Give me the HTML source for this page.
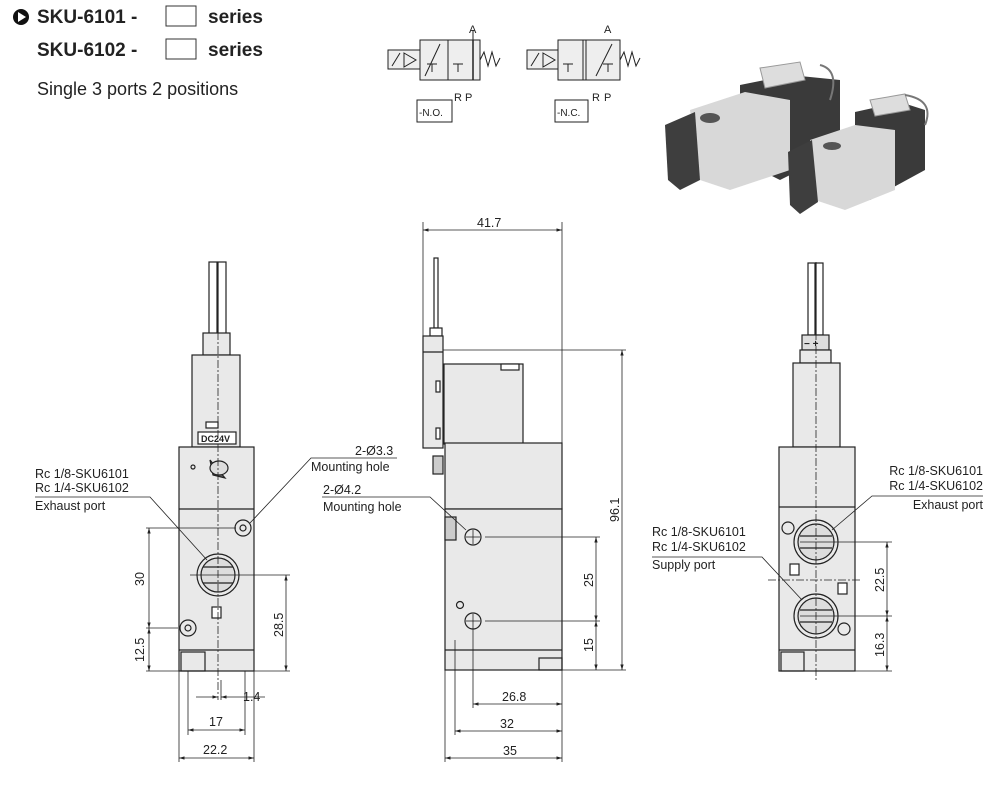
<!DOCTYPE html>
<html><head><meta charset="utf-8"><style>
html,body{margin:0;padding:0;background:#fff}
svg{display:block}
text{font-family:"Liberation Sans",sans-serif;fill:#222}
</style></head><body>
<svg width="1000" height="798" viewBox="0 0 1000 798" xmlns="http://www.w3.org/2000/svg">
<defs>
<marker id="ar" viewBox="0 0 10 10" refX="10" refY="5" markerWidth="7" markerHeight="7" orient="auto-start-reverse"><path d="M0,2 L10,5 L0,8z" fill="#222"/></marker>
</defs>
<!-- Header -->
<circle cx="21" cy="17" r="8" fill="#111"/><path d="M18,12 L26,17 L18,22z" fill="#fff"/>
<text x="37" y="23" font-size="19" font-weight="bold">SKU-6101 -</text>
<rect x="166" y="6" width="30" height="20" fill="none" stroke="#333"/>
<text x="208" y="23" font-size="19" font-weight="bold">series</text>
<text x="37" y="56" font-size="19" font-weight="bold">SKU-6102 -</text>
<rect x="166" y="39" width="30" height="20" fill="none" stroke="#333"/>
<text x="208" y="56" font-size="19" font-weight="bold">series</text>
<text x="37" y="95" font-size="18">Single 3 ports 2 positions</text>

<!-- NO symbol -->
<g stroke="#222" stroke-width="1" fill="#eee">
<rect x="388" y="50" width="32" height="19"/>
<rect x="420" y="40" width="60" height="40"/>
<line x1="448" y1="40" x2="448" y2="80"/>
<path d="M392,66 L400,53 M404,53 L416,60 L404,67z" fill="none"/>
<path d="M425,76 L440,44 M432,72 V64 M427,64 H437 M458,72 V64 M453,64 H463 M473,40 V30" fill="none"/>
<path d="M473,40 V80" fill="none" stroke-width="1.5"/>
<path d="M480,60 L484,52 L488,66 L492,52 L496,66 L500,58" fill="none"/>
<rect x="417" y="100" width="35" height="22" fill="#fff"/>
<rect x="527" y="50" width="31" height="19"/>
<rect x="558" y="40" width="62" height="40"/>
<line x1="583" y1="40" x2="583" y2="80"/><line x1="586" y1="40" x2="586" y2="80"/>
<path d="M531,66 L539,53 M543,53 L555,60 L543,67z" fill="none"/>
<path d="M596,76 L612,44 M568,72 V64 M563,64 H573 M608,72 V64 M603,64 H613" fill="none"/>
<path d="M620,60 L624,52 L628,66 L632,52 L636,66 L640,58" fill="none"/>
<rect x="555" y="100" width="33" height="22" fill="#fff"/>
</g>
<g font-size="11">
<text x="469" y="33">A</text><text x="454" y="101">R</text><text x="465" y="101">P</text>
<text x="604" y="33">A</text><text x="592" y="101">R</text><text x="604" y="101">P</text>
<text x="419" y="116" font-size="10">-N.O.</text><text x="557" y="116" font-size="10">-N.C.</text>
</g>

<!-- Photo approximation -->
<g>
<path d="M740,85 L790,75 L840,80 L840,150 L780,180 L740,160z" fill="#3a3a3a"/>
<path d="M690,110 L745,92 L790,100 L790,170 L730,190 L700,180z" fill="#d8d8d8"/>
<path d="M665,125 L695,112 L700,180 L680,190 L668,180z" fill="#3e3e3e"/>
<path d="M760,68 L800,62 L805,80 L765,88z" fill="#ddd" stroke="#999"/>
<path d="M820,65 Q840,70 830,100" fill="none" stroke="#777" stroke-width="2"/>
<ellipse cx="710" cy="118" rx="10" ry="5" fill="#555"/>
<path d="M855,112 L900,102 L925,110 L925,170 L870,200 L855,190z" fill="#3a3a3a"/>
<path d="M810,140 L855,125 L895,130 L895,190 L845,210 L815,200z" fill="#d8d8d8"/>
<path d="M788,152 L812,140 L818,202 L800,214 L790,205z" fill="#3e3e3e"/>
<path d="M870,100 L905,94 L910,110 L875,116z" fill="#ddd" stroke="#999"/>
<path d="M905,95 Q935,100 925,125" fill="none" stroke="#777" stroke-width="2"/>
<ellipse cx="832" cy="146" rx="9" ry="4" fill="#555"/>
</g>

<!-- ===== LEFT VIEW ===== -->
<g stroke="#222" stroke-width="1.2" fill="#e9e9e9">
<rect x="209" y="262" width="8" height="72" fill="#fff"/><rect x="218" y="262" width="8" height="72" fill="#fff"/>
<rect x="203" y="333" width="27" height="22"/>
<rect x="192" y="355" width="48" height="92"/>
<rect x="179" y="447" width="75" height="224"/>
<line x1="179" y1="509" x2="254" y2="509"/>
<line x1="179" y1="650" x2="254" y2="650"/>
<rect x="181" y="652" width="24" height="19" fill="none"/>
<rect x="206" y="422" width="12" height="6" fill="#fff"/>
<rect x="198" y="432" width="38" height="12" fill="#fff"/>
<circle cx="218" cy="575" r="21"/><circle cx="218" cy="575" r="17" fill="#ddd"/>
<line x1="203" y1="567" x2="233" y2="567"/><line x1="203" y1="583" x2="233" y2="583"/>
<circle cx="243" cy="528" r="8"/><circle cx="243" cy="528" r="3"/>
<circle cx="188" cy="628" r="8"/><circle cx="188" cy="628" r="3"/>
<rect x="212" y="607" width="9" height="11" fill="#fff"/>
<path d="M210,460 L225,478 L213,475z" fill="#666"/>
<ellipse cx="219" cy="468" rx="9" ry="7" fill="#ddd"/>
<circle cx="193" cy="467" r="2" fill="none"/>
</g>
<text x="201" y="442" font-size="9" font-weight="bold">DC24V</text>
<g stroke="#222" stroke-width="0.8" fill="none">
<line x1="218" y1="262" x2="218" y2="700" stroke-dasharray="8,2,2,2"/>
<line x1="146" y1="528" x2="236" y2="528"/>
<line x1="190" y1="575" x2="290" y2="575"/>
<line x1="146" y1="628" x2="178" y2="628"/>
<line x1="146" y1="671" x2="290" y2="671"/>
<line x1="149" y1="528" x2="149" y2="628" marker-start="url(#ar)" marker-end="url(#ar)"/>
<line x1="149" y1="628" x2="149" y2="671" marker-start="url(#ar)" marker-end="url(#ar)"/>
<line x1="286" y1="575" x2="286" y2="671" marker-start="url(#ar)" marker-end="url(#ar)"/>
<line x1="188" y1="671" x2="188" y2="735"/>
<line x1="245" y1="671" x2="245" y2="735"/>
<line x1="179" y1="671" x2="179" y2="762"/>
<line x1="254" y1="671" x2="254" y2="762"/>
<line x1="221" y1="680" x2="221" y2="700"/>
<line x1="196" y1="697" x2="218" y2="697" marker-end="url(#ar)"/>
<line x1="265" y1="697" x2="221" y2="697" marker-end="url(#ar)"/>
<line x1="188" y1="730" x2="245" y2="730" marker-start="url(#ar)" marker-end="url(#ar)"/>
<line x1="179" y1="758" x2="254" y2="758" marker-start="url(#ar)" marker-end="url(#ar)"/>
<polyline points="35,497 150,497 207,560"/>
<polyline points="397,458 311,458 250,523"/>
</g>
<g font-size="12.5">
<text x="35" y="478">Rc 1/8-SKU6101</text>
<text x="35" y="492">Rc 1/4-SKU6102</text>
<text x="35" y="510">Exhaust port</text>
<text x="355" y="455">2-Ø3.3</text>
<text x="311" y="471">Mounting hole</text>
<text x="323" y="494">2-Ø4.2</text>
<text x="323" y="511">Mounting hole</text>
<text x="243" y="701">1.4</text>
<text x="209" y="726">17</text>
<text x="203" y="754">22.2</text>
<text transform="translate(144,586) rotate(-90)">30</text>
<text transform="translate(144,662) rotate(-90)">12.5</text>
<text transform="translate(283,637) rotate(-90)">28.5</text>
</g>

<!-- ===== MIDDLE VIEW ===== -->
<g stroke="#222" stroke-width="1.2" fill="#e9e9e9">
<rect x="434" y="258" width="4" height="70" fill="#fff"/>
<rect x="430" y="328" width="12" height="8" fill="#fff"/>
<rect x="423" y="336" width="20" height="112"/>
<line x1="423" y1="352" x2="443" y2="352"/>
<rect x="436" y="381" width="4" height="11" fill="#fff"/><rect x="436" y="428" width="4" height="11" fill="#fff"/>
<rect x="444" y="364" width="79" height="80"/>
<rect x="501" y="364" width="18" height="6" fill="#fff"/>
<rect x="445" y="443" width="117" height="66"/>
<rect x="445" y="509" width="117" height="161"/>
<line x1="445" y1="650" x2="562" y2="650"/>
<rect x="539" y="658" width="23" height="12" fill="none"/>
<rect x="445" y="517" width="11" height="23" fill="#ccc"/>
<rect x="433" y="456" width="10" height="18" fill="#ccc"/>
<circle cx="473" cy="537" r="8" fill="none"/><circle cx="473" cy="621" r="8" fill="none"/>
<circle cx="460" cy="605" r="3.5" fill="none"/>
</g>
<g stroke="#222" stroke-width="0.8" fill="none">
<line x1="423" y1="222" x2="423" y2="336"/>
<line x1="562" y1="222" x2="562" y2="762"/>
<line x1="423" y1="230" x2="562" y2="230" marker-start="url(#ar)" marker-end="url(#ar)"/>
<line x1="443" y1="350" x2="626" y2="350"/>
<line x1="622" y1="350" x2="622" y2="670" marker-start="url(#ar)" marker-end="url(#ar)"/>
<line x1="562" y1="670" x2="626" y2="670"/>
<line x1="485" y1="537" x2="600" y2="537"/><line x1="485" y1="621" x2="600" y2="621"/>
<line x1="596" y1="537" x2="596" y2="621" marker-start="url(#ar)" marker-end="url(#ar)"/>
<line x1="596" y1="621" x2="596" y2="670" marker-start="url(#ar)" marker-end="url(#ar)"/>
<line x1="473" y1="530" x2="473" y2="544"/><line x1="466" y1="537" x2="480" y2="537"/>
<line x1="473" y1="614" x2="473" y2="708"/><line x1="466" y1="621" x2="480" y2="621"/>
<line x1="455" y1="640" x2="455" y2="735"/>
<line x1="445" y1="670" x2="445" y2="762"/>
<line x1="473" y1="704" x2="562" y2="704" marker-start="url(#ar)" marker-end="url(#ar)"/>
<line x1="455" y1="731" x2="562" y2="731" marker-start="url(#ar)" marker-end="url(#ar)"/>
<line x1="445" y1="758" x2="562" y2="758" marker-start="url(#ar)" marker-end="url(#ar)"/>
<polyline points="322,497 430,497 466,530"/>
</g>
<g font-size="12.5">
<text x="477" y="227">41.7</text>
<text x="502" y="701">26.8</text>
<text x="500" y="728">32</text>
<text x="503" y="755">35</text>
<text transform="translate(593,587) rotate(-90)">25</text>
<text transform="translate(593,652) rotate(-90)">15</text>
<text transform="translate(619,522) rotate(-90)">96.1</text>
</g>

<!-- ===== RIGHT VIEW ===== -->
<g stroke="#222" stroke-width="1.2" fill="#e9e9e9">
<rect x="808" y="263" width="7" height="72" fill="#fff"/><rect x="816" y="263" width="7" height="72" fill="#fff"/>
<rect x="802" y="335" width="27" height="15" fill="#ddd"/>
<rect x="800" y="350" width="31" height="13"/>
<rect x="793" y="363" width="47" height="84"/>
<rect x="779" y="447" width="76" height="224"/>
<line x1="779" y1="507" x2="855" y2="507"/>
<line x1="779" y1="650" x2="855" y2="650"/>
<rect x="781" y="652" width="23" height="19" fill="none"/>
<circle cx="816" cy="542" r="22"/><circle cx="816" cy="542" r="18" fill="#ddd"/>
<line x1="800" y1="536" x2="832" y2="536"/><line x1="800" y1="548" x2="832" y2="548"/>
<circle cx="816" cy="616" r="22"/><circle cx="816" cy="616" r="18" fill="#ddd"/>
<line x1="800" y1="610" x2="832" y2="610"/><line x1="800" y1="622" x2="832" y2="622"/>
<circle cx="788" cy="528" r="6"/><circle cx="844" cy="629" r="6"/>
<rect x="790" y="564" width="9" height="11" fill="#fff"/><rect x="838" y="583" width="9" height="11" fill="#fff"/>
</g>
<text x="804" y="347" font-size="10" font-weight="bold">− +</text>
<g stroke="#222" stroke-width="0.8" fill="none">
<line x1="816" y1="262" x2="816" y2="680" stroke-dasharray="8,2,2,2"/>
<line x1="768" y1="580" x2="862" y2="580" stroke-dasharray="8,2,2,2"/>
<line x1="800" y1="542" x2="892" y2="542"/>
<line x1="800" y1="616" x2="892" y2="616"/>
<line x1="855" y1="671" x2="892" y2="671"/>
<line x1="887" y1="542" x2="887" y2="616" marker-start="url(#ar)" marker-end="url(#ar)"/>
<line x1="887" y1="616" x2="887" y2="671" marker-start="url(#ar)" marker-end="url(#ar)"/>
<polyline points="983,496 872,496 832,530"/>
<polyline points="652,557 762,557 802,600"/>
</g>
<g font-size="12.5">
<text x="983" y="475" text-anchor="end">Rc 1/8-SKU6101</text>
<text x="983" y="490" text-anchor="end">Rc 1/4-SKU6102</text>
<text x="983" y="509" text-anchor="end">Exhaust port</text>
<text x="652" y="536">Rc 1/8-SKU6101</text>
<text x="652" y="551">Rc 1/4-SKU6102</text>
<text x="652" y="569">Supply port</text>
<text transform="translate(884,592) rotate(-90)">22.5</text>
<text transform="translate(884,657) rotate(-90)">16.3</text>
</g>
</svg>
</body></html>
